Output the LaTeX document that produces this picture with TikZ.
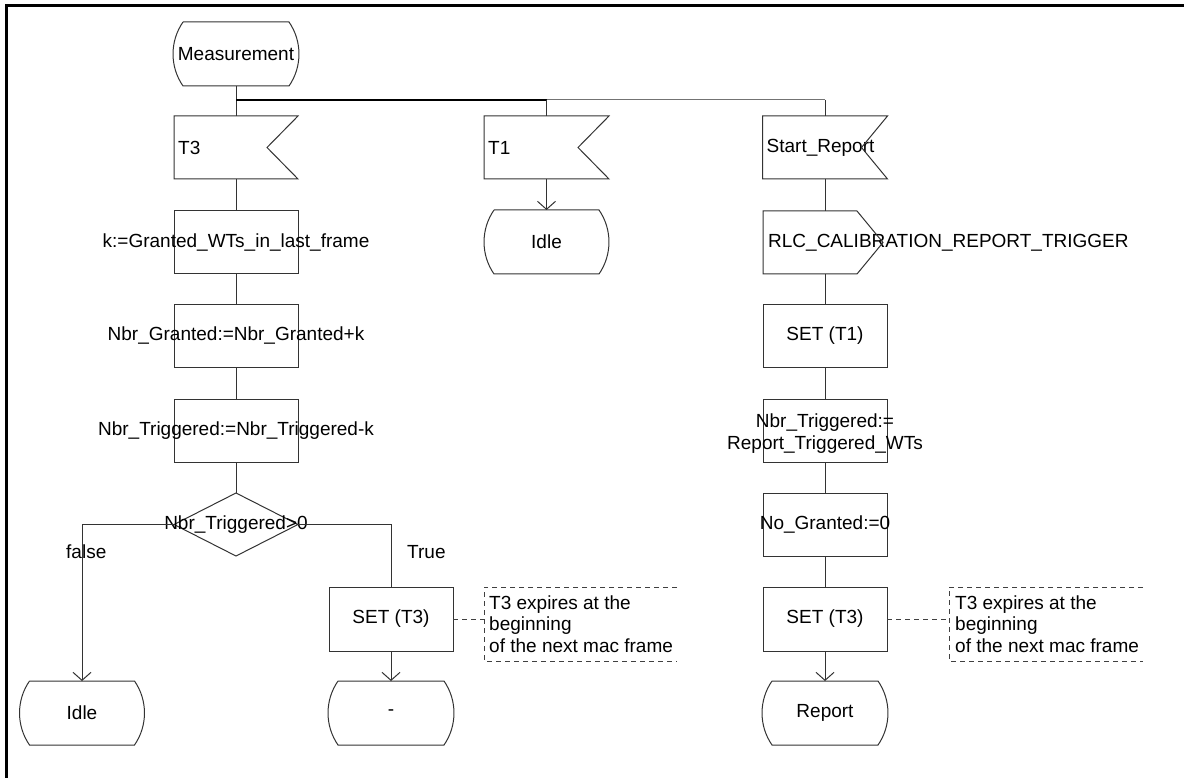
\documentclass[tikz,border=0pt]{standalone}
\usepackage{fontspec}
\setmainfont{Liberation Sans}
\usetikzlibrary{shapes.geometric,arrows.meta}
\tikzset{
  x=1pt, y=-1pt,
  lin/.style={line width=1pt, draw=black!80},
  shp/.style={inner sep=0pt, outer sep=0pt, minimum width=124pt, minimum height=63pt},
  boxsym/.style={shp, lin},
  txt/.style={font=\fontsize{19}{21.5}\selectfont, inner sep=0pt, text=black},
  arr/.style={lin, -{Straight Barb[length=8pt,width=18pt,line width=1pt]}},
  cmtline/.style={line width=1pt, draw=black!75, dash pattern=on 5pt off 4pt},
}
\newcommand\sdlstate[1]{\draw[lin] ([xshift=10pt]#1.north west) -- ([xshift=-10pt]#1.north east) .. controls ([xshift=3.3pt,yshift=-19.2pt]#1.north east) and ([xshift=3.3pt,yshift=19.2pt]#1.south east) .. ([xshift=-10pt]#1.south east) -- ([xshift=10pt]#1.south west) .. controls ([xshift=-3.3pt,yshift=19.2pt]#1.south west) and ([xshift=-3.3pt,yshift=-19.2pt]#1.north west) .. ([xshift=10pt]#1.north west);}
\newcommand\sdlinput[2]{\draw[lin] (#1.north west) -- (#1.north east) -- ([xshift=-#2]#1.east) -- (#1.south east) -- (#1.south west) -- cycle;}
\begin{document}
\begin{tikzpicture}
\useasboundingbox (0,0) rectangle (1184,778);
\fill[white] (0,0) rectangle (1184,778);
\draw[line width=2.5pt] (6.5,780) -- (6.5,5.5) -- (1186,5.5);

% column 1
\node[shp, minimum width=126pt, minimum height=64pt, label={[txt]center:Measurement}] (meas) at (236,54) {};
\node[shp, label={[txt,anchor=west,xshift=4pt]west:T3}] (t3) at (236,147.5) {};
\node[boxsym, label={[txt]center:{k:=Granted\_WTs\_in\_last\_frame}}] (kb) at (236,242.5) {};
\node[boxsym, label={[txt]center:{Nbr\_Granted:=Nbr\_Granted+k}}] (ngb) at (236,336) {};
\node[boxsym, label={[txt]center:{Nbr\_Triggered:=Nbr\_Triggered-k}}] (ntb) at (236,430.5) {};
\node[boxsym, diamond, label={[txt]center:{Nbr\_Triggered>0}}] (dia) at (236,524.5) {};
\node[shp, minimum width=125pt, minimum height=64pt, label={[txt]center:Idle}] (idleA) at (82,713) {};
\node[boxsym, minimum height=64pt, label={[txt]center:{SET (T3)}}] (setA) at (391,619) {};
\node[shp, minimum width=126pt, minimum height=64pt, label={[txt]center:-}] (stay) at (391,713) {};
\node[shp, minimum width=193pt, minimum height=74pt, label={[txt,align=left,anchor=west,xshift=5pt]west:{T3 expires at the\\beginning\\of the next mac frame}}] (cA) at (580.5,624) {};
\node[txt, anchor=base west] (fl) at (66,558) {false};
\node[txt, anchor=base west] (tl) at (407,558) {True};

% column 2
\node[shp, minimum width=125pt, label={[txt,anchor=west,xshift=4pt]west:T1}] (t1) at (546.5,147.5) {};
\node[shp, minimum width=125pt, minimum height=64pt, label={[txt]center:Idle}] (idleB) at (546.5,242) {};

% column 3
\node[shp, minimum width=125pt, label={[txt,anchor=west,xshift=4pt]west:{Start\_Report}}] (sr) at (825,147.5) {};
\node[shp, label={[txt,anchor=west,xshift=5pt]west:{RLC\_CALIBRATION\_REPORT\_TRIGGER}}] (rlc) at (825,242.5) {};
\node[boxsym, label={[txt]center:{SET (T1)}}] (set1) at (825,336) {};
\node[boxsym, label={[txt,align=center,yshift=-3pt]center:{Nbr\_Triggered:=\\Report\_Triggered\_WTs}}] (ntr) at (825,430.5) {};
\node[boxsym, label={[txt]center:{No\_Granted:=0}}] (nog) at (825,524.5) {};
\node[boxsym, minimum height=64pt, label={[txt]center:{SET (T3)}}] (setB) at (825,619) {};
\node[shp, minimum width=126pt, minimum height=64pt, label={[txt]center:Report}] (rep) at (825,713) {};
\node[shp, minimum width=194pt, minimum height=74pt, label={[txt,align=left,anchor=west,xshift=6pt]west:{T3 expires at the\\beginning\\of the next mac frame}}] (cB) at (1046,624) {};

% symbol outlines
\sdlstate{meas}
\sdlstate{idleA}
\sdlstate{stay}
\sdlstate{idleB}
\sdlstate{rep}
\sdlinput{t3}{31pt}
\sdlinput{t1}{31pt}
\sdlinput{sr}{26pt}
\draw[lin] (rlc.north west) -- ([xshift=-30pt]rlc.north east) -- ([xshift=-4pt]rlc.east) -- ([xshift=-30pt]rlc.south east) -- (rlc.south west) -- cycle;

% bus
\coordinate (bA) at (236,100);
\coordinate (bB) at (bA -| t1.north);
\coordinate (bC) at (bA -| sr.north);
\draw[lin] (meas.south) -- (t3.north);
\draw[line width=2pt, black] (bA) -- (bB);
\draw[line width=1pt, black!55] (bB) -- (bC);
\draw[lin] (bB) -- (t1.north);
\draw[lin] (bC) -- (sr.north);

% column 1 flow
\draw[lin] (t3.south) -- (kb.north);
\draw[lin] (kb.south) -- (ngb.north);
\draw[lin] (ngb.south) -- (ntb.north);
\draw[lin] (ntb.south) -- (dia.north);
\draw[arr] (dia.west) -| (idleA.north);
\draw[lin] (dia.east) -| (setA.north);
\draw[arr] (setA.south) -- (stay.north);
\draw[cmtline] (setA.east) -- (setA.east -| cA.west);
\draw[cmtline] (cA.north east) -- (cA.north west) -- (cA.south west) -- (cA.south east);

% column 2 flow
\draw[arr] (t1.south) -- (idleB.north);

% column 3 flow
\draw[lin] (sr.south) -- (rlc.north);
\draw[lin] (rlc.south) -- (set1.north);
\draw[lin] (set1.south) -- (ntr.north);
\draw[lin] (ntr.south) -- (nog.north);
\draw[lin] (nog.south) -- (setB.north);
\draw[arr] (setB.south) -- (rep.north);
\draw[cmtline] (setB.east) -- (setB.east -| cB.west);
\draw[cmtline] (cB.north east) -- (cB.north west) -- (cB.south west) -- (cB.south east);
\end{tikzpicture}
\end{document}
